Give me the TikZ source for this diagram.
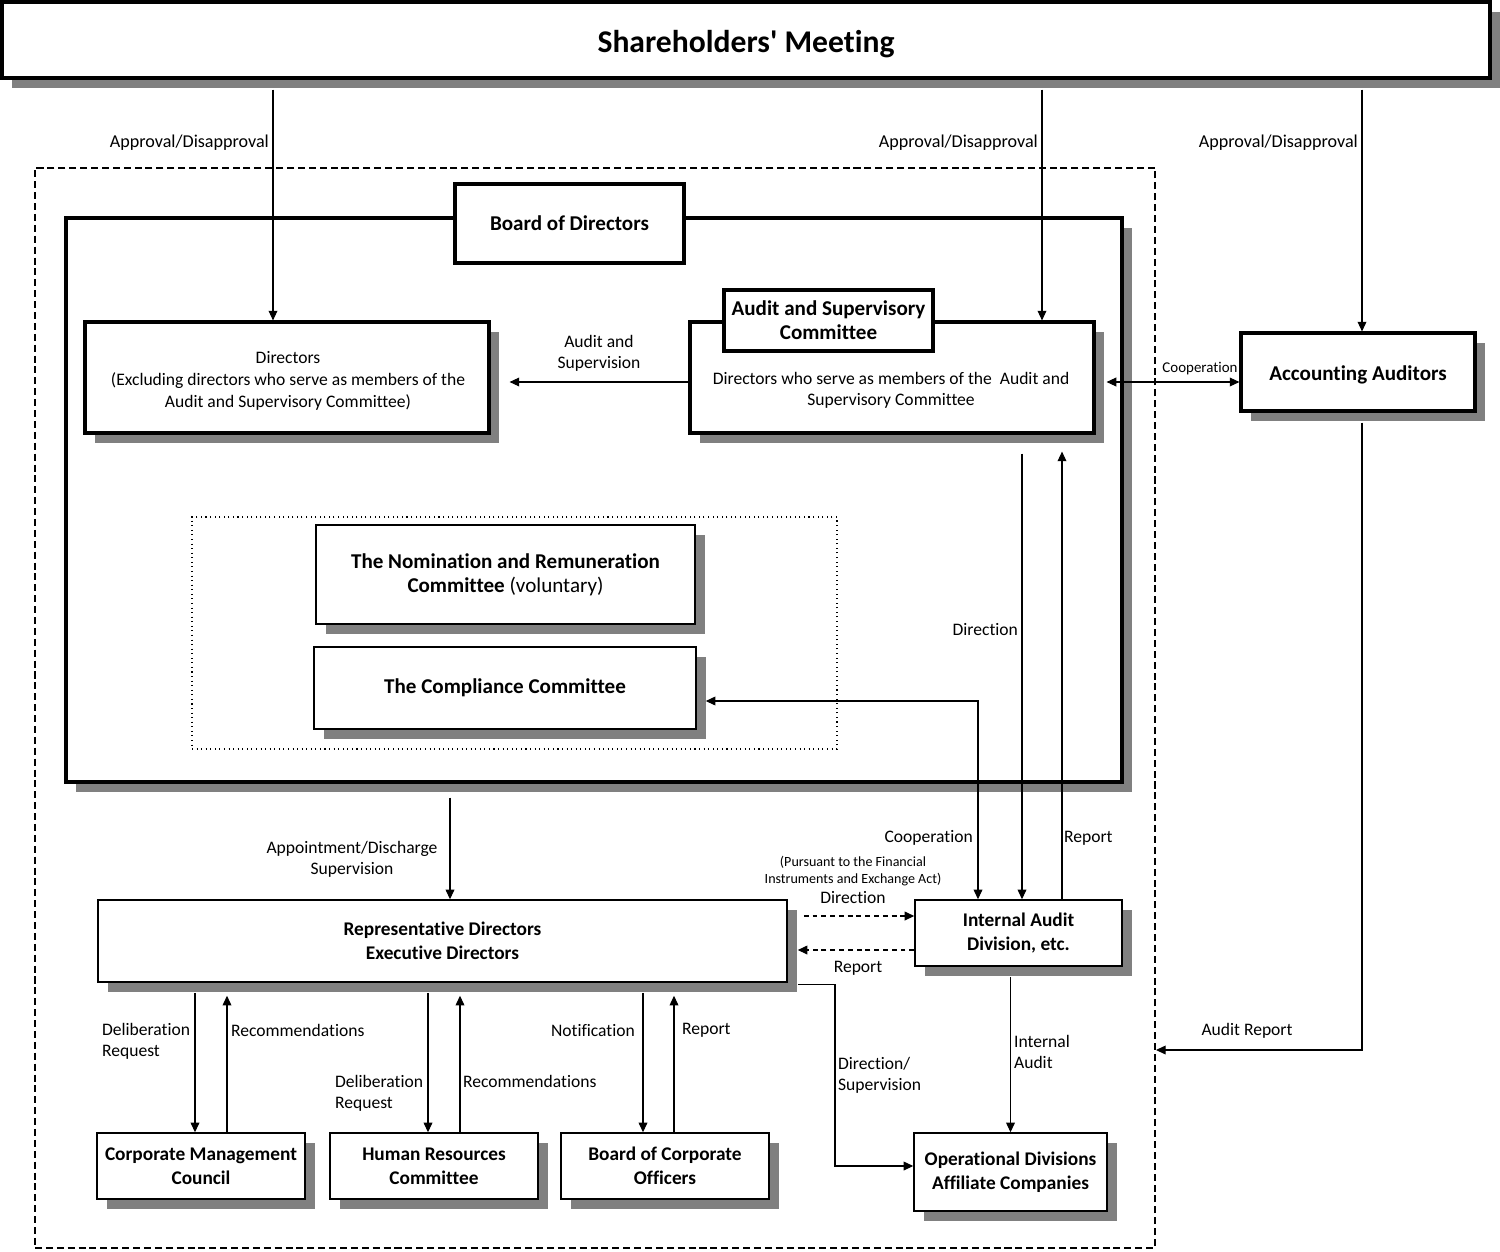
\documentclass[tikz,border=0pt]{standalone}
\usepackage{fontspec}
\setmainfont{Carlito}[Ligatures=NoCommon]
\usetikzlibrary{arrows.meta,shadows,calc}

\tikzset{
  shadowed/.style={drop shadow={shadow xshift=0.2cm,shadow yshift=-0.2cm,fill=black!50,opacity=1}},
  thickbox/.style={draw,line width=1.8pt,fill=white,align=center,inner sep=0pt,font=\fontsize{12}{13.6}\selectfont\bfseries},
  thinbox/.style={draw,line width=0.85pt,fill=white,align=center,inner sep=0pt,shadowed,font=\fontsize{12}{13.6}\selectfont\bfseries},
  unitbox/.style={thinbox,font=\fontsize{11}{13.6}\selectfont\bfseries},
  sz/.style 2 args={minimum width=#1*0.02cm,minimum height=#2*0.02cm},
  lbl/.style={font=\fontsize{10}{12}\selectfont,inner sep=1pt},
  smalllbl/.style={font=\fontsize{8}{9.5}\selectfont,inner sep=1pt},
  arr/.style={->,line width=0.6pt},
  dasharr/.style={->,line width=0.7pt,dash pattern=on 2.8pt off 2.2pt},
}

\begin{document}
\begin{tikzpicture}[x=0.02cm,y=-0.02cm,>={Triangle[length=5.5pt,width=5pt]}]
  \useasboundingbox (0,0) rectangle (1500,1251);

  %outer frame (company)
  \node[draw,line width=1.1pt,dash pattern=on 4pt off 2.2pt,sz={1120}{1080}] (grp) at (595,708) {};

  \node[thickbox,shadowed,sz={1488}{76}] (sh) at (746,40) {};
  \node[font=\fontsize{18}{20}\selectfont\bfseries] (shtxt) at (746,44) {Shareholders\textquotesingle{} Meeting};

  %board of directors
  \node[thickbox,shadowed,sz={1056}{564}] (bodfrm) at (594,500) {};
  \node[thickbox,sz={229}{79}] (bod) at (569.5,223.5) {Board of Directors};

  \node[thickbox,shadowed,sz={404}{111}] (dir) at (287,377.5) {};
  \node[font=\fontsize{10}{12.5}\selectfont,align=center] (dirtxt) at (288,381)
    {Directors\\(Excluding directors who serve as members of the\\Audit and Supervisory Committee)};
  \node[thickbox,shadowed,sz={404}{111}] (asc) at (892,377.5) {};
  \node[font=\fontsize{10}{12}\selectfont,align=center] (asctxt) at (891,390)
    {Directors who serve as members of the~ Audit and\\Supervisory Committee};
  \node[thickbox,sz={209}{61}] (asctab) at (828.5,320.5) {Audit and Supervisory\\Committee};

  \node[thickbox,shadowed,sz={234}{78}] (aa) at (1358,372) {};
  \node[font=\fontsize{12}{13.6}\selectfont\bfseries] (aatxt) at (1358,375) {Accounting Auditors};

  %voluntary committees
  \node[draw,line width=0.6pt,dotted,sz={645}{232}] (vol) at (514.5,633) {};
  \node[thinbox,sz={379}{99}] (nrc) at (505.5,574.5) {The Nomination and Remuneration\\Committee \mdseries(voluntary)};
  \node[thinbox,sz={382}{82}] (cc) at (505,688) {The Compliance Committee};

  %execution
  \node[unitbox,sz={207}{66}] (iad) at (1018.5,933) {Internal Audit\\Division, etc.};
  \node[unitbox,sz={689}{82}] (rep) at (442.5,941) {Representative Directors\\Executive Directors};
  \node[unitbox,sz={208}{66}] (cmc) at (201,1166) {Corporate Management\\Council};
  \node[unitbox,sz={208}{66}] (hrc) at (434,1166) {Human Resources\\Committee};
  \node[unitbox,sz={208}{66}] (bco) at (665,1166) {Board of Corporate\\Officers};
  \node[unitbox,sz={193}{78}] (ops) at (1010.5,1172) {Operational Divisions\\Affiliate Companies};

  %shareholders
  \draw[arr] ([yshift=-0.2cm]sh.south -| 273,0) -- (dir.north -| 273,0);
  \draw[arr] ([yshift=-0.2cm]sh.south -| 1042,0) -- (asc.north -| 1042,0);
  \draw[arr] ([yshift=-0.2cm]sh.south -| 1362,0) -- (aa.north -| 1362,0);
  \node[lbl,anchor=east,font=\fontsize{10.3}{12}\selectfont] (ap1) at (271,143) {Approval/Disapproval};
  \node[lbl,anchor=east,font=\fontsize{10.3}{12}\selectfont] (ap2) at (1040,143) {Approval/Disapproval};
  \node[lbl,anchor=east,font=\fontsize{10.3}{12}\selectfont] (ap3) at (1360,143) {Approval/Disapproval};

  %audit committee
  \draw[arr] (asc.west |- 0,382) -- ([xshift=0.38cm]dir.east |- 0,382);
  \node[lbl,align=center] (asup) at (599,353) {Audit and\\Supervision};
  \draw[<->,line width=0.6pt] ([xshift=0.22cm]asc.east |- 0,382) -- (aa.west |- 0,382);
  \node[smalllbl,anchor=south,font=\fontsize{8.5}{10}\selectfont] (coop1) at (1200,377) {Cooperation};

  \draw[<->,line width=0.6pt] ([xshift=0.18cm]cc.east |- 0,701) -| (iad.north -| 978,0);
  \node[lbl,anchor=east] (coop2) at (975,838) {Cooperation};
  \draw[arr] ([yshift=-0.38cm]asc.south -| 1022,0) -- (iad.north -| 1022,0);
  \node[lbl,anchor=east] (drct1) at (1020,630) {Direction};
  \draw[arr] (iad.north -| 1062,0) -- ([yshift=-0.34cm]asc.south -| 1062,0);
  \node[lbl,anchor=west] (rpt1) at (1062,838) {Report};

  %board to executives
  \draw[arr] ([yshift=-0.28cm]bodfrm.south -| 450,0) -- (rep.north -| 450,0);
  \node[lbl,align=center] (appt) at (352,859) {Appointment/Discharge\\Supervision};

  \draw[dasharr] ([xshift=0.32cm]rep.east |- 0,916) -- (iad.west |- 0,916);
  \node[lbl] (drct2) at (853,898) {Direction};
  \node[smalllbl,align=center] (fiea) at (853,871) {(Pursuant to the Financial\\Instruments and Exchange Act)};
  \draw[dasharr] (iad.west |- 0,950) -- ([xshift=0.2cm]rep.east |- 0,950);
  \node[lbl] (rpt2) at (858,968) {Report};

  %bottom row
  \draw[arr] ([yshift=-0.2cm]rep.south -| 195,0) -- (cmc.north -| 195,0);
  \draw[arr] (cmc.north -| 227,0) -- ([yshift=-0.26cm]rep.south -| 227,0);
  \draw[arr] ([yshift=-0.2cm]rep.south -| 428,0) -- (hrc.north -| 428,0);
  \draw[arr] (hrc.north -| 460,0) -- ([yshift=-0.26cm]rep.south -| 460,0);
  \draw[arr] ([yshift=-0.2cm]rep.south -| 643,0) -- (bco.north -| 643,0);
  \draw[arr] (bco.north -| 674,0) -- ([yshift=-0.26cm]rep.south -| 674,0);
  \node[lbl,align=left,anchor=west] (dlb1) at (100,1041) {Deliberation\\Request};
  \node[lbl,anchor=west] (rec1) at (229,1030) {Recommendations};
  \node[lbl,align=left,anchor=west] (dlb2) at (333,1093) {Deliberation\\Request};
  \node[lbl,anchor=west] (rec2) at (461,1081) {Recommendations};
  \node[lbl,anchor=east] (ntf) at (637,1031) {Notification};
  \node[lbl,anchor=west] (rpt3) at (680,1030) {Report};

  \draw[arr] ([xshift=0.2cm,yshift=-0.04cm]rep.south east) -| (835,1100) |- ([yshift=0.12cm]ops.west);
  \node[lbl,align=left,anchor=west] (dsup) at (836,1075) {Direction/\\Supervision};
  \draw[arr] ([yshift=-0.2cm]iad.south -| ops.north) -- (ops.north);
  \node[lbl,align=left,anchor=west] (iaud) at (1012,1052) {Internal\\Audit};

  %accounting auditors
  \draw[arr] ([yshift=-0.2cm]aa.south -| 1362,0) |- (grp.east |- 0,1050);
  \node[lbl] (arpt) at (1247,1031) {Audit Report};
\end{tikzpicture}
\end{document}
